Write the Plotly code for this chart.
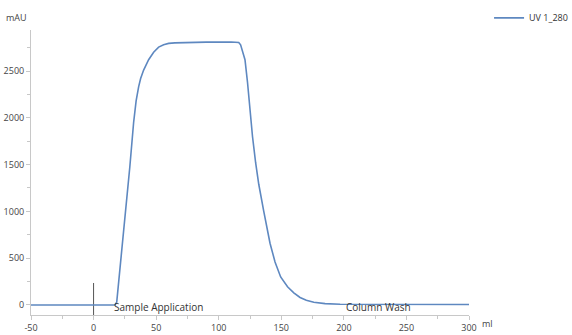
import plotly.graph_objects as go

# Chromatogram trace (UV 1_280)
ml = [-50, 0, 17, 18.5, 20, 22, 25.6, 29, 32, 34, 36, 37.6, 40, 44, 48, 52, 56, 60, 65, 75, 90, 110,
      114, 116, 117.5, 119, 121, 123, 125, 127, 129.5, 132, 136, 141, 145, 149.5, 155, 160, 165, 170,
      176, 185, 197, 250, 300]
mAU = [0, 0, 0, 30, 230, 500, 1000, 1480, 1950, 2180, 2330, 2420, 2510, 2620, 2700, 2755, 2780, 2795,
       2800, 2805, 2808, 2810, 2810, 2805, 2780, 2720, 2620, 2380, 2050, 1800, 1520, 1290, 1000, 660,
       460, 300, 195, 130, 80, 50, 30, 15, 8, 5, 5]

# Injection marker
marker_x = [0, 0]
marker_y = [-107, 235]

# Event labels
event_names = ["Sample Application", "Column Wash"]
event_x = [15, 200]
event_y = [0, 0]

x_ticks = [-50, 0, 50, 100, 150, 200, 250, 300]
x_tick_labels = ["-50", "0", "50", "100", "150", "200", "250", "300"]
y_ticks = [0, 500, 1000, 1500, 2000, 2500]
y_tick_labels = ["0", "500", "1000", "1500", "2000", "2500"]

fig = go.Figure()
fig.add_trace(go.Scatter(x=marker_x, y=marker_y, mode="lines",
                         line=dict(color="#555555", width=1), showlegend=False, hoverinfo="skip"))
fig.add_trace(go.Scatter(x=ml, y=mAU, mode="lines", name="UV 1_280",
                         line=dict(color="#5e88c0", width=1.6)))

for name, ex, ey in zip(event_names, event_x, event_y):
    fig.add_annotation(x=ex, y=ey, text=name, showarrow=False, xanchor="left", yanchor="middle",
                       yshift=-2, font=dict(size=10, color="#333333"))

fig.add_annotation(xref="paper", yref="paper", x=1.025, y=0, text="ml", showarrow=False,
                   xanchor="left", yanchor="top", yshift=0, font=dict(size=9, color="#444444"))
fig.add_annotation(xref="paper", yref="paper", x=-0.005, y=1.0, text="mAU", showarrow=False,
                   xanchor="right", yanchor="bottom", yshift=4, font=dict(size=9, color="#444444"))

axis_common = dict(showgrid=False, zeroline=False, showline=True, linecolor="#c8c8c8", linewidth=1,
                   ticks="outside", ticklen=4, tickcolor="#c8c8c8", automargin=False,
                   tickfont=dict(size=9, color="#444444"))

fig.update_layout(
    width=572, height=335,
    margin=dict(l=31, r=103, t=30, b=20, autoexpand=False),
    paper_bgcolor="white", plot_bgcolor="white",
    font=dict(family="Open Sans, sans-serif"),
    xaxis=dict(range=[-50, 300], tickvals=x_ticks, ticktext=x_tick_labels,
               minor=dict(dtick=25, ticks="outside", ticklen=3, tickcolor="#c8c8c8"),
               **axis_common),
    yaxis=dict(range=[-107, 2938], tickvals=y_ticks, ticktext=y_tick_labels,
               minor=dict(dtick=250, ticks="outside", ticklen=3, tickcolor="#c8c8c8"),
               **axis_common),
    legend=dict(xref="container", yref="container", x=0.855, y=0.99, xanchor="left", yanchor="top",
                bgcolor="rgba(0,0,0,0)", font=dict(size=9, color="#333333"), itemwidth=30),
    showlegend=True,
)

fig.write_html("out.html", config={"displayModeBar": False},
               post_script="document.body.style.margin='0';document.body.style.overflow='hidden';")
